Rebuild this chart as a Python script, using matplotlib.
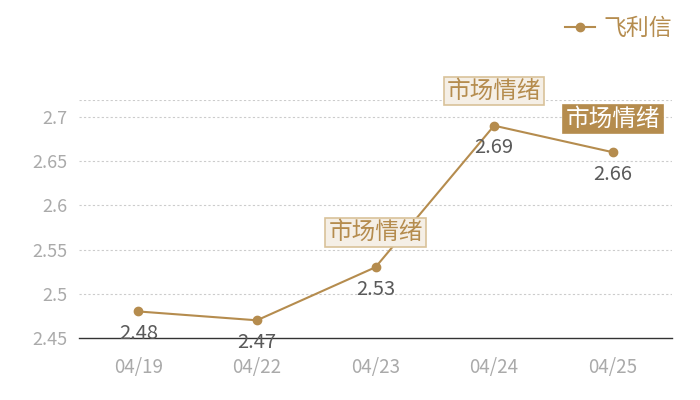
import matplotlib
matplotlib.use("Agg")
import matplotlib.pyplot as plt
from matplotlib.lines import Line2D

plt.rcParams['font.family'] = ['Noto Sans CJK SC', 'DejaVu Sans']

categories = ['04/19', '04/22', '04/23', '04/24', '04/25']
values = [2.48, 2.47, 2.53, 2.69, 2.66]
yticks = [2.45, 2.5, 2.55, 2.6, 2.65, 2.7]
ytick_labels = ['2.45', '2.5', '2.55', '2.6', '2.65', '2.7']
series_name = '飞利信'
mark_label = '市场情绪'
mark_idx = [2, 3]          # light boxes
mark_idx_filled = [4]      # filled box

gold = '#b58c4e'
fig = plt.figure(figsize=(7, 4), dpi=100)
ax = fig.add_axes([79/700, 62/400, 593/700, 238/400])
x = list(range(len(categories)))
ax.plot(x, values, color=gold, lw=1.5, marker='o', ms=6, zorder=3)
ax.set_xlim(-0.5, len(categories) - 0.5)
ax.set_ylim(2.45, 2.719)
ax.set_yticks(yticks)
ax.set_yticklabels(ytick_labels)
ax.set_xticks(x)
ax.set_xticklabels(categories)
for y in yticks[1:] + [2.719]:
    ax.axhline(y, color='#cccccc', lw=0.8, ls=(0, (2, 2)), zorder=1)
for s in ['top', 'right', 'left']:
    ax.spines[s].set_visible(False)
ax.spines['bottom'].set_color('#333333')
ax.spines['bottom'].set_linewidth(1)
ax.tick_params(axis='both', length=0, colors='#aaaaaa', labelsize=13)
ax.tick_params(axis='x', pad=14, labelsize=13.5)
ax.tick_params(axis='y', pad=8)

for xi, v in zip(x, values):
    ax.annotate(f'{v:.2f}', (xi, v), xytext=(0, -16), textcoords='offset points',
                ha='center', va='center', fontsize=14.5, color='#5a5a5a', zorder=4)

for i in mark_idx:
    ax.annotate(mark_label, (i, values[i]), xytext=(0, 25), textcoords='offset points',
                ha='center', va='center', fontsize=17, color=gold, zorder=5,
                bbox=dict(boxstyle='square,pad=0.12', fc='#f5efe6', ec='#d9c29a', lw=1.2))
for i in mark_idx_filled:
    ax.annotate(mark_label, (i, values[i]), xytext=(0, 24), textcoords='offset points',
                ha='center', va='center', fontsize=17, color='white', zorder=5,
                bbox=dict(boxstyle='square,pad=0.12', fc=gold, ec=gold, lw=1.2))

handle = Line2D([], [], color=gold, lw=1.5, marker='o', ms=6)
leg = fig.legend([handle], [series_name], loc='upper right', bbox_to_anchor=(0.99, 1.01),
                 frameon=False, fontsize=16.5, handlelength=1.3, handletextpad=0.4)
for t in leg.get_texts():
    t.set_color(gold)

fig.savefig('out.png', dpi=100)
